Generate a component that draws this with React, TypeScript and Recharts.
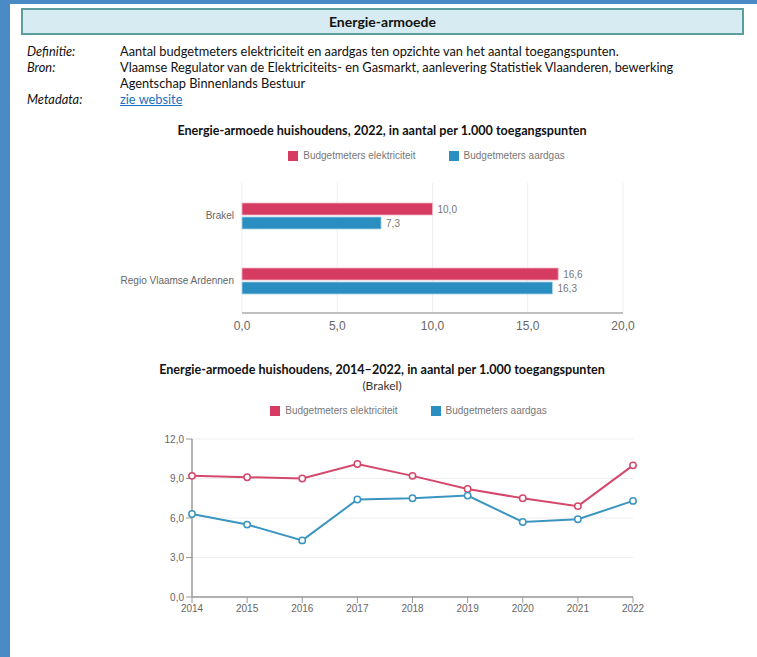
import React from 'react';
import {
  BarChart, Bar, LineChart, Line, XAxis, YAxis, CartesianGrid, Legend, LabelList,
} from 'recharts';

// ---- data ----
const barCategories = ['Brakel', 'Regio Vlaamse Ardennen'];
const barElektriciteit = [10.0, 16.6];
const barAardgas = [7.3, 16.3];

const years = ['2014', '2015', '2016', '2017', '2018', '2019', '2020', '2021', '2022'];
const lineElektriciteit = [9.2, 9.1, 9.0, 10.1, 9.2, 8.2, 7.5, 6.9, 10.0];
const lineAardgas = [6.3, 5.5, 4.3, 7.4, 7.5, 7.7, 5.7, 5.9, 7.3];

const barTicks = [0, 5, 10, 15, 20];
const lineTicks = [0, 3, 6, 9, 12];

const seriesNames = ['Budgetmeters elektriciteit', 'Budgetmeters aardgas'];

const RED = '#d63b61';
const BLUE = '#2a8fc0';
const RED_LINE = '#d4486c';
const BLUE_LINE = '#3a95c1';

const barData = barCategories.map((c, i) => ({ name: c, el: barElektriciteit[i], gas: barAardgas[i] }));
const lineData = years.map((y, i) => ({ year: y, el: lineElektriciteit[i], gas: lineAardgas[i] }));

const fmt = (v: any) => Number(v).toFixed(1).replace('.', ',');

const CHART_FONT = '"Liberation Sans", Arial, sans-serif';
const TEXT_FONT = 'Lato, "Open Sans", sans-serif';

const makeLegend = (colors: string[]) => () => (
  <div style={{ display: 'flex', justifyContent: 'center', alignItems: 'center', fontFamily: CHART_FONT, fontSize: 10, color: '#777' }}>
    {seriesNames.map((n, i) => (
      <div key={n} style={{ display: 'flex', alignItems: 'center', marginRight: i === 0 ? 33 : 0 }}>
        <span style={{ display: 'inline-block', width: 10, height: 10, background: colors[i], marginRight: 5 }} />
        <span>{n}</span>
      </div>
    ))}
  </div>
);

const CategoryTick = (props: any) => {
  const { x, y, payload } = props;
  return (
    <text x={x} y={y} dy="0.355em" textAnchor="end" fontSize={10} fill="#666" fontFamily={CHART_FONT}>
      {payload.value}
    </text>
  );
};

export default function App() {
  return (
    <div style={{ position: 'absolute', left: 0, top: 0, width: 757, height: 657, background: '#fff', overflow: 'hidden' }}>
      {/* blue frame */}
      <div style={{ position: 'absolute', left: 0, top: 0, width: 10, height: 657, background: '#4a8bc5' }} />
      <div style={{ position: 'absolute', left: 0, top: 0, width: 757, height: 4, background: '#4a8bc5' }} />

      {/* header box */}
      <div style={{
        position: 'absolute', left: 21, top: 8, width: 719, height: 23, background: '#d6ecf2',
        border: '2px solid #5a9f9d', display: 'flex', alignItems: 'center', justifyContent: 'center',
        fontFamily: TEXT_FONT, fontWeight: 700, fontSize: 14, color: '#111',
      }}>Energie-armoede</div>

      {/* metadata block */}
      <div style={{ position: 'absolute', left: 27, top: 43, fontFamily: TEXT_FONT, fontSize: 12.8, color: '#111', lineHeight: '16px' }}>
        <div style={{ display: 'flex' }}>
          <div style={{ width: 93, fontStyle: 'italic' }}>Definitie:</div>
          <div>Aantal budgetmeters elektriciteit en aardgas ten opzichte van het aantal toegangspunten.</div>
        </div>
        <div style={{ display: 'flex' }}>
          <div style={{ width: 93, fontStyle: 'italic' }}>Bron:</div>
          <div style={{ width: 610 }}>Vlaamse Regulator van de Elektriciteits- en Gasmarkt, aanlevering Statistiek Vlaanderen, bewerking<br />Agentschap Binnenlands Bestuur</div>
        </div>
        <div style={{ display: 'flex' }}>
          <div style={{ width: 93, fontStyle: 'italic' }}>Metadata:</div>
          <div style={{ color: '#1a6fc2', textDecoration: 'underline' }}>zie website</div>
        </div>
      </div>

      {/* bar chart title */}
      <div style={{ position: 'absolute', left: 0, width: 764, top: 123, textAlign: 'center', fontFamily: TEXT_FONT, fontWeight: 700, fontSize: 12.6, color: '#111' }}>
        Energie-armoede huishoudens, 2022, in aantal per 1.000 toegangspunten
      </div>

      <div style={{ position: 'absolute', left: 0, top: 140 }}>
        <BarChart
          width={757}
          height={200}
          data={barData}
          layout="vertical"
          margin={{ top: 43, right: 134, bottom: 0, left: 101 }}
          barCategoryGap="30%"
          barGap={2}
          style={{ fontFamily: CHART_FONT }}
        >
          <CartesianGrid horizontal={false} stroke="#eeeeee" strokeWidth={1} />
          <XAxis
            type="number"
            domain={[0, 20]}
            ticks={barTicks}
            tickFormatter={fmt}
            axisLine={{ stroke: '#aaa', strokeWidth: 1.5 }}
            tickLine={false}
            tick={{ fontSize: 12, fill: '#666' }}
            height={27}
          />
          <YAxis
            type="category"
            dataKey="name"
            width={141}
            axisLine={false}
            tickLine={false}
            tick={<CategoryTick />}
          />
          <Legend
            layout="horizontal"
            verticalAlign="middle"
            align="center"
            wrapperStyle={{ top: 10, left: 236, width: 381, height: 12 }}
            content={makeLegend([RED, BLUE])}
          />
          <Bar dataKey="el" name={seriesNames[0]} fill={RED} stroke="#f2b3c3" strokeWidth={0.8} barSize={12} isAnimationActive={false}>
            <LabelList dataKey="el" position="right" offset={5} formatter={fmt} style={{ fontSize: 10, fill: '#777' }} />
          </Bar>
          <Bar dataKey="gas" name={seriesNames[1]} fill={BLUE} stroke="#a9d3e8" strokeWidth={0.8} barSize={12} isAnimationActive={false}>
            <LabelList dataKey="gas" position="right" offset={5} formatter={fmt} style={{ fontSize: 10, fill: '#777' }} />
          </Bar>
        </BarChart>
      </div>

      {/* line chart titles */}
      <div style={{ position: 'absolute', left: 0, width: 764, top: 362, textAlign: 'center', fontFamily: TEXT_FONT, fontWeight: 700, fontSize: 12.6, color: '#111' }}>
        Energie-armoede huishoudens, 2014–2022, in aantal per 1.000 toegangspunten
      </div>
      <div style={{ position: 'absolute', left: 0, width: 764, top: 378, textAlign: 'center', fontFamily: TEXT_FONT, fontSize: 12, color: '#333' }}>
        (Brakel)
      </div>

      <div style={{ position: 'absolute', left: 0, top: 395 }}>
        <LineChart
          width={757}
          height={230}
          data={lineData}
          margin={{ top: 44, right: 124, bottom: 3, left: 132 }}
          style={{ fontFamily: CHART_FONT }}
        >
          <CartesianGrid vertical={false} stroke="#eeeeee" strokeWidth={1} />
          <XAxis
            dataKey="year"
            axisLine={{ stroke: '#999', strokeWidth: 1.5 }}
            tickLine={{ stroke: '#999' }}
            tick={{ fontSize: 10, fill: '#666' }}
            height={25}
          />
          <YAxis
            domain={[0, 12]}
            ticks={lineTicks}
            tickFormatter={fmt}
            axisLine={{ stroke: '#999', strokeWidth: 1.5 }}
            tickLine={{ stroke: '#999' }}
            tick={{ fontSize: 10, fill: '#666' }}
            width={60}
          />
          <Legend
            layout="horizontal"
            verticalAlign="middle"
            align="center"
            wrapperStyle={{ top: 10, left: 188, width: 441, height: 12 }}
            content={makeLegend([RED, BLUE])}
          />
          <Line
            dataKey="el"
            name={seriesNames[0]}
            stroke={RED_LINE}
            strokeWidth={2}
            dot={{ r: 3.2, fill: '#fff', stroke: RED_LINE, strokeWidth: 1.5 }}
            isAnimationActive={false}
          />
          <Line
            dataKey="gas"
            name={seriesNames[1]}
            stroke={BLUE_LINE}
            strokeWidth={2}
            dot={{ r: 3.2, fill: '#fff', stroke: BLUE_LINE, strokeWidth: 1.5 }}
            isAnimationActive={false}
          />
        </LineChart>
      </div>
    </div>
  );
}
